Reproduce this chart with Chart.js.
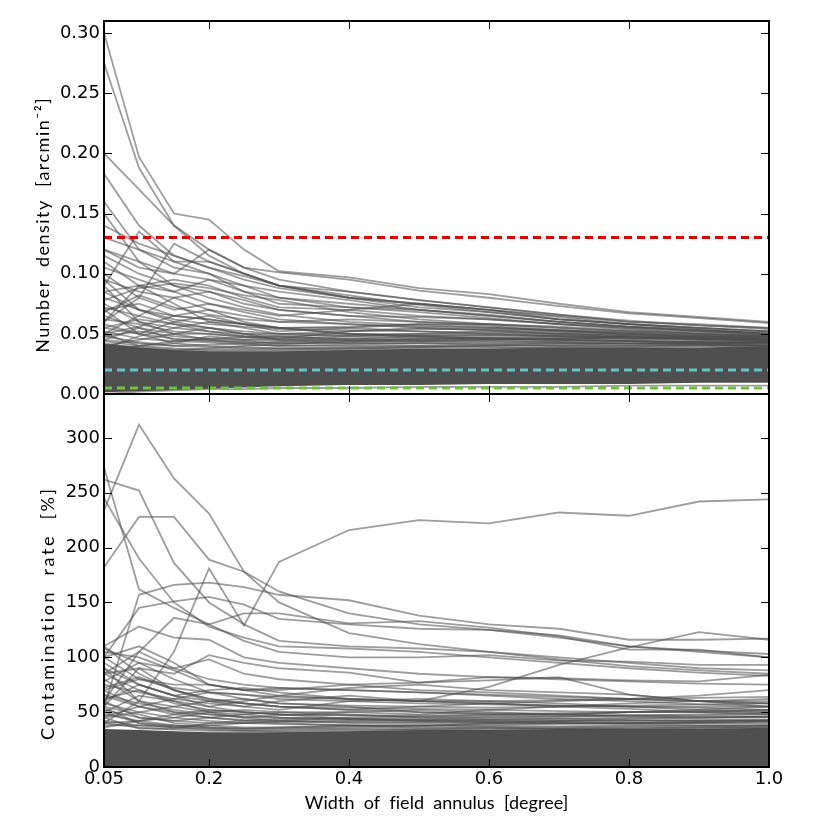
<!DOCTYPE html>
<html>
<head>
<meta charset="utf-8">
<title>Field annulus width</title>
<script src="https://cdn.jsdelivr.net/npm/chart.js@4.4.0/dist/chart.umd.min.js"></script>
<style>
  html, body { margin: 0; padding: 0; background: #fff; }
  #wrap { width: 830px; height: 830px; }
</style>
</head>
<body>
<div id="wrap"><canvas id="annulus" width="830" height="830"></canvas></div>
<script>
// Width of field annulus vs number density / contamination rate
// -----------------------------------

var xValues = [0.05, 0.1, 0.15, 0.2, 0.25, 0.3, 0.4, 0.5, 0.6, 0.7, 0.8, 0.9, 1.0];
var xTicks = [0.05, 0.2, 0.4, 0.6, 0.8, 1.0];
var xTickLabels = ['0.05', '0.2', '0.4', '0.6', '0.8', '1.0'];

// number density [arcmin^-2], one row per object
var densityLines = [
    [0.300, 0.197, 0.150, 0.145, 0.120, 0.102, 0.097, 0.088, 0.083, 0.075, 0.068, 0.064, 0.060],
    [0.275, 0.188, 0.140, 0.120, 0.105, 0.101, 0.095, 0.086, 0.080, 0.073, 0.067, 0.063, 0.059],
    [0.200, 0.170, 0.140, 0.115, 0.100, 0.090, 0.085, 0.078, 0.072, 0.066, 0.060, 0.057, 0.055],
    [0.183, 0.140, 0.115, 0.105, 0.095, 0.088, 0.080, 0.075, 0.070, 0.064, 0.058, 0.055, 0.052],
    [0.160, 0.120, 0.105, 0.100, 0.090, 0.080, 0.072, 0.068, 0.063, 0.058, 0.054, 0.050, 0.048],
    [0.150, 0.110, 0.090, 0.085, 0.075, 0.070, 0.065, 0.060, 0.057, 0.053, 0.050, 0.048, 0.046],
    [0.090, 0.135, 0.110, 0.100, 0.085, 0.080, 0.075, 0.070, 0.065, 0.060, 0.056, 0.053, 0.050],
    [0.060, 0.080, 0.125, 0.110, 0.100, 0.090, 0.080, 0.075, 0.070, 0.065, 0.060, 0.058, 0.055],
    [0.120, 0.105, 0.100, 0.120, 0.105, 0.095, 0.085, 0.078, 0.072, 0.066, 0.061, 0.057, 0.054],
    [0.130, 0.120, 0.110, 0.110, 0.100, 0.090, 0.080, 0.072, 0.068, 0.062, 0.058, 0.055, 0.052],
    [0.110, 0.090, 0.095, 0.090, 0.080, 0.072, 0.070, 0.065, 0.062, 0.058, 0.055, 0.052, 0.050],
    [0.085, 0.090, 0.085, 0.095, 0.085, 0.075, 0.072, 0.070, 0.066, 0.060, 0.056, 0.053, 0.050],
    [0.100, 0.080, 0.070, 0.075, 0.070, 0.065, 0.070, 0.075, 0.070, 0.062, 0.058, 0.054, 0.050],
    [0.070, 0.075, 0.065, 0.070, 0.065, 0.060, 0.062, 0.060, 0.058, 0.055, 0.052, 0.050, 0.048],
    [0.090, 0.060, 0.055, 0.060, 0.058, 0.055, 0.055, 0.052, 0.050, 0.048, 0.047, 0.046, 0.045],
    [0.060, 0.090, 0.075, 0.060, 0.055, 0.050, 0.050, 0.048, 0.046, 0.045, 0.044, 0.043, 0.042],
    [0.050, 0.065, 0.080, 0.070, 0.060, 0.055, 0.050, 0.050, 0.052, 0.050, 0.048, 0.046, 0.044],
    [0.075, 0.060, 0.050, 0.050, 0.047, 0.045, 0.048, 0.050, 0.050, 0.049, 0.047, 0.045, 0.043],
    [0.055, 0.050, 0.060, 0.055, 0.050, 0.048, 0.045, 0.044, 0.044, 0.043, 0.042, 0.041, 0.040],
    [0.045, 0.055, 0.045, 0.045, 0.044, 0.042, 0.043, 0.045, 0.046, 0.045, 0.044, 0.042, 0.040],
    [0.080, 0.070, 0.060, 0.065, 0.058, 0.052, 0.055, 0.058, 0.056, 0.052, 0.050, 0.047, 0.045],
    [0.065, 0.055, 0.050, 0.055, 0.050, 0.045, 0.042, 0.042, 0.041, 0.040, 0.040, 0.040, 0.039],
    [0.040, 0.045, 0.050, 0.045, 0.042, 0.040, 0.040, 0.040, 0.039, 0.038, 0.038, 0.038, 0.037],
    [0.095, 0.085, 0.080, 0.085, 0.078, 0.070, 0.065, 0.064, 0.062, 0.058, 0.055, 0.052, 0.049],
    [0.050, 0.040, 0.042, 0.048, 0.045, 0.046, 0.052, 0.055, 0.053, 0.050, 0.048, 0.046, 0.044],
    [0.042, 0.038, 0.036, 0.038, 0.040, 0.041, 0.044, 0.046, 0.047, 0.047, 0.046, 0.045, 0.044],
    [0.070, 0.050, 0.042, 0.040, 0.039, 0.038, 0.038, 0.039, 0.040, 0.041, 0.042, 0.042, 0.042],
    [0.045, 0.042, 0.040, 0.041, 0.042, 0.043, 0.045, 0.046, 0.046, 0.045, 0.044, 0.043, 0.042],
    [0.052, 0.046, 0.044, 0.043, 0.041, 0.040, 0.041, 0.042, 0.042, 0.042, 0.041, 0.041, 0.040],
    [0.058, 0.050, 0.046, 0.044, 0.043, 0.042, 0.042, 0.043, 0.043, 0.043, 0.042, 0.042, 0.041],
    [0.048, 0.052, 0.048, 0.046, 0.045, 0.044, 0.046, 0.048, 0.049, 0.048, 0.047, 0.046, 0.045],
    [0.062, 0.058, 0.052, 0.050, 0.048, 0.047, 0.046, 0.045, 0.045, 0.044, 0.044, 0.043, 0.043],
    [0.085, 0.070, 0.065, 0.062, 0.058, 0.055, 0.050, 0.048, 0.047, 0.046, 0.045, 0.044, 0.043],
    [0.105, 0.095, 0.085, 0.075, 0.068, 0.062, 0.058, 0.055, 0.053, 0.051, 0.049, 0.047, 0.046],
    [0.115, 0.100, 0.090, 0.080, 0.072, 0.066, 0.060, 0.057, 0.055, 0.053, 0.051, 0.049, 0.048],
    [0.078, 0.088, 0.092, 0.088, 0.082, 0.078, 0.068, 0.062, 0.058, 0.055, 0.052, 0.050, 0.048],
    [0.068, 0.082, 0.072, 0.066, 0.062, 0.060, 0.058, 0.056, 0.055, 0.053, 0.051, 0.049, 0.047],
    [0.038, 0.048, 0.055, 0.052, 0.050, 0.050, 0.052, 0.054, 0.054, 0.052, 0.050, 0.048, 0.046],
    [0.120, 0.110, 0.100, 0.095, 0.090, 0.085, 0.078, 0.070, 0.065, 0.060, 0.056, 0.053, 0.051],
    [0.140, 0.125, 0.115, 0.105, 0.098, 0.090, 0.082, 0.074, 0.068, 0.062, 0.058, 0.055, 0.052],
    [0.095, 0.070, 0.062, 0.058, 0.056, 0.054, 0.053, 0.052, 0.051, 0.050, 0.049, 0.048, 0.047],
    [0.035, 0.040, 0.044, 0.046, 0.047, 0.048, 0.049, 0.049, 0.049, 0.048, 0.047, 0.046, 0.045],
    [0.055, 0.062, 0.058, 0.052, 0.048, 0.046, 0.044, 0.044, 0.045, 0.046, 0.047, 0.047, 0.047],
    [0.072, 0.065, 0.058, 0.055, 0.052, 0.050, 0.048, 0.047, 0.046, 0.046, 0.046, 0.046, 0.046],
    [0.050, 0.056, 0.065, 0.062, 0.058, 0.055, 0.056, 0.058, 0.058, 0.056, 0.053, 0.051, 0.049],
    [0.044, 0.040, 0.038, 0.037, 0.037, 0.037, 0.038, 0.039, 0.040, 0.040, 0.040, 0.041, 0.041],
    [0.048, 0.043, 0.040, 0.039, 0.038, 0.038, 0.039, 0.040, 0.041, 0.042, 0.042, 0.042, 0.043],
    [0.041, 0.039, 0.037, 0.036, 0.036, 0.036, 0.037, 0.038, 0.038, 0.039, 0.039, 0.040, 0.040],
    [0.000, 0.002, 0.003, 0.004, 0.004, 0.005, 0.005, 0.006, 0.006, 0.006, 0.007, 0.007, 0.007]
];
// dense core of the density curves
var densityCoreLow  = [0.002, 0.003, 0.004, 0.005, 0.006, 0.007, 0.008, 0.008, 0.009, 0.009, 0.009, 0.010, 0.010];
var densityCoreHigh = [0.041, 0.038, 0.036, 0.035, 0.035, 0.035, 0.036, 0.037, 0.037, 0.038, 0.038, 0.038, 0.039];

// reference levels on the density panel
var refLevels = [0.13, 0.02, 0.005];
var refColors = ['#e00000', '#62c6c6', '#6cc23a'];

// contamination rate [%], one row per object
var contaminationLines = [
    [234, 312, 263, 231, 178, 150, 122, 112, 105, 100, 95, 90, 88],
    [182, 228, 228, 189, 178, 160, 140, 130, 125, 118, 110, 106, 103],
    [262, 252, 186, 150, 130, 115, 110, 108, 105, 98, 92, 88, 85],
    [273, 162, 145, 130, 115, 105, 100, 100, 102, 97, 96, 93, 93],
    [245, 190, 150, 128, 118, 110, 108, 105, 100, 95, 90, 86, 83],
    [40, 60, 105, 181, 129, 187, 216, 225, 222, 232, 229, 242, 244],
    [55, 157, 166, 168, 164, 157, 152, 138, 130, 126, 116, 116, 117],
    [110, 128, 118, 116, 100, 95, 90, 85, 82, 80, 78, 76, 75],
    [100, 145, 151, 155, 148, 135, 130, 126, 125, 120, 110, 105, 100],
    [60, 105, 136, 130, 140, 140, 131, 133, 127, 119, 107, 107, 100],
    [85, 90, 85, 102, 95, 90, 86, 77, 79, 82, 66, 60, 58],
    [108, 95, 90, 98, 85, 80, 75, 77, 82, 81, 79, 78, 84],
    [55, 90, 70, 60, 55, 60, 65, 60, 73, 93, 109, 123, 116],
    [70, 80, 75, 75, 70, 70, 75, 70, 68, 65, 62, 60, 58],
    [95, 75, 65, 60, 58, 55, 52, 55, 58, 60, 62, 65, 70],
    [50, 65, 60, 55, 60, 65, 72, 75, 70, 68, 66, 60, 55],
    [80, 60, 55, 50, 52, 50, 50, 48, 52, 55, 58, 60, 62],
    [65, 55, 50, 48, 45, 47, 50, 52, 50, 48, 46, 45, 45],
    [45, 50, 55, 60, 62, 58, 55, 50, 48, 47, 50, 52, 55],
    [60, 45, 42, 45, 48, 50, 48, 45, 44, 44, 43, 42, 42],
    [75, 68, 62, 58, 55, 52, 60, 62, 60, 58, 55, 52, 50],
    [105, 100, 88, 75, 70, 72, 70, 68, 65, 62, 60, 57, 55],
    [40, 42, 45, 50, 48, 45, 44, 42, 42, 41, 40, 40, 40],
    [55, 48, 40, 38, 40, 42, 45, 46, 47, 48, 50, 50, 52],
    [85, 70, 60, 50, 45, 42, 40, 40, 40, 40, 39, 38, 38],
    [38, 38, 37, 38, 36, 36, 38, 38, 37, 37, 38, 38, 38],
    [70, 55, 48, 45, 42, 40, 38, 36, 36, 35, 35, 36, 36],
    [100, 110, 95, 75, 70, 65, 62, 60, 58, 55, 53, 50, 48],
    [90, 75, 65, 70, 72, 68, 62, 60, 58, 56, 55, 54, 52],
    [50, 40, 38, 36, 35, 35, 36, 37, 40, 42, 44, 45, 46],
    [45, 35, 35, 40, 42, 44, 43, 42, 41, 40, 40, 41, 42],
    [60, 75, 65, 55, 50, 48, 44, 43, 43, 42, 42, 42, 43],
    [48, 42, 38, 36, 35, 36, 37, 38, 39, 40, 40, 40, 41],
    [52, 45, 42, 40, 40, 41, 42, 43, 43, 44, 45, 45, 46],
    [58, 50, 45, 42, 40, 39, 38, 38, 38, 39, 40, 41, 42],
    [42, 38, 36, 35, 34, 34, 35, 35, 36, 36, 37, 37, 38],
    [66, 58, 52, 48, 46, 45, 44, 44, 45, 46, 47, 48, 49],
    [110, 85, 70, 62, 58, 55, 52, 50, 49, 48, 47, 46, 46],
    [72, 82, 70, 62, 58, 55, 54, 53, 52, 51, 50, 50, 50],
    [62, 70, 58, 52, 50, 48, 47, 47, 48, 49, 50, 51, 52],
    [90, 60, 50, 45, 43, 42, 41, 41, 41, 42, 42, 43, 43],
    [36, 42, 48, 52, 50, 48, 47, 46, 46, 46, 47, 47, 48],
    [78, 95, 80, 68, 62, 58, 56, 55, 54, 55, 56, 57, 58],
    [46, 55, 62, 68, 66, 62, 60, 58, 57, 56, 55, 55, 55],
    [100, 80, 72, 68, 66, 64, 62, 60, 60, 61, 62, 63, 64],
    [54, 40, 36, 34, 33, 33, 34, 34, 35, 35, 36, 36, 37],
    [85, 105, 90, 80, 75, 72, 70, 68, 66, 64, 62, 60, 60],
    [40, 36, 34, 33, 33, 32, 33, 34, 34, 35, 35, 35, 36]
];
var contaminationCoreLow  = [0, 0, 0, 0, 0, 0, 0, 0, 0, 0, 0, 0, 0];
var contaminationCoreHigh = [34, 33, 32, 31, 31, 31, 32, 33, 33, 34, 34, 34, 35];

(function(window, document, undefined) {

    var lineColor = 'rgba(77, 77, 77, 0.55)';
    var coreColor = '#4f4f4f';

    function points(values) {
        return xValues.map(function(x, i) {
            return { x: x, y: values[i] };
        });
    }

    function greyLine(values, axis) {
        return {
            data: points(values),
            yAxisID: axis,
            borderColor: lineColor,
            borderWidth: 1.8,
            pointRadius: 0,
            fill: false,
            order: 2
        };
    }

    var datasets = [];

    // reference levels go first so they end up on top
    refLevels.forEach(function(level, i) {
        datasets.push({
            data: [{ x: xValues[0], y: level }, { x: xValues[xValues.length - 1], y: level }],
            yAxisID: 'yTop',
            borderColor: refColors[i],
            borderWidth: 3,
            borderDash: [8, 5],
            pointRadius: 0,
            fill: false,
            order: 0
        });
    });

    /*-----------------Density panel-----------------*/
    datasets.push({
        data: points(densityCoreLow), yAxisID: 'yTop',
        borderColor: coreColor, borderWidth: 1.5, pointRadius: 0, fill: false, order: 3
    });
    datasets.push({
        data: points(densityCoreHigh), yAxisID: 'yTop',
        borderColor: coreColor, borderWidth: 1.5, pointRadius: 0,
        fill: '-1', backgroundColor: coreColor, order: 3
    });
    densityLines.forEach(function(row) {
        datasets.push(greyLine(row, 'yTop'));
    });

    /*-----------------Contamination panel-----------------*/
    datasets.push({
        data: points(contaminationCoreLow), yAxisID: 'yBottom',
        borderColor: coreColor, borderWidth: 1.5, pointRadius: 0, fill: false, order: 3
    });
    datasets.push({
        data: points(contaminationCoreHigh), yAxisID: 'yBottom',
        borderColor: coreColor, borderWidth: 1.5, pointRadius: 0,
        fill: '-1', backgroundColor: coreColor, order: 3
    });
    contaminationLines.forEach(function(row) {
        datasets.push(greyLine(row, 'yBottom'));
    });

    // axis titles, stretched to the length of the LaTeX labels
    function fittedText(ctx, text, cx, cy, rotation, length) {
        ctx.save();
        ctx.translate(cx, cy);
        ctx.rotate(rotation);
        ctx.font = '18px Lato';
        ctx.fillStyle = '#000';
        ctx.letterSpacing = '0px';
        var w = ctx.measureText(text).width;
        var extra = (length - w) / text.length;
        ctx.letterSpacing = extra + 'px';
        ctx.textAlign = 'center';
        ctx.textBaseline = 'middle';
        ctx.fillText(text, extra / 2, 0);
        ctx.restore();
    }

    // matplotlib style frame with inward ticks on every side
    var framePlugin = {
        id: 'frame',
        afterDatasetsDraw: function(chart) {
            var ctx = chart.ctx;
            var x = chart.scales.x;
            var yTop = chart.scales.yTop;
            var yBottom = chart.scales.yBottom;
            ctx.save();
            ctx.strokeStyle = '#000';
            [yTop, yBottom].forEach(function(y) {
                ctx.lineWidth = 1;
                ctx.beginPath();
                x.ticks.forEach(function(t) {
                    var px = Math.round(x.getPixelForValue(t.value)) + 0.5;
                    ctx.moveTo(px, y.top);
                    ctx.lineTo(px, y.top + 8);
                    ctx.moveTo(px, y.bottom);
                    ctx.lineTo(px, y.bottom - 8);
                });
                y.ticks.forEach(function(t) {
                    var py = Math.round(y.getPixelForValue(t.value)) + 0.5;
                    ctx.moveTo(x.left, py);
                    ctx.lineTo(x.left + 8, py);
                    ctx.moveTo(x.right, py);
                    ctx.lineTo(x.right - 8, py);
                });
                ctx.stroke();
                ctx.lineWidth = 2;
                ctx.strokeRect(x.left, y.top, x.right - x.left, y.bottom - y.top);
            });
            ctx.restore();

            fittedText(ctx, 'Width  of  field  annulus  [degree]',
                (x.left + x.right) / 2, x.bottom - 27, 0, 263);
            fittedText(ctx, 'Number  density  [arcmin\u207B\u00B2]',
                43, (yTop.top + yTop.bottom) / 2 + 18, -Math.PI / 2, 256);
            fittedText(ctx, 'Contamination  rate  [%]',
                48, (yBottom.top + yBottom.bottom) / 2 + 34, -Math.PI / 2, 254);
        }
    };

    var tickFont = { family: 'DejaVu Sans', size: 18 };

    var ctx = document.getElementById('annulus').getContext('2d');
    var annulusChart = new Chart(ctx, {
        type: 'line',
        data: { datasets: datasets },
        plugins: [framePlugin],
        options: {
            responsive: false,
            animation: false,
            events: [],
            layout: { padding: { top: 21, right: 61, bottom: 0, left: 0 } },
            plugins: {
                legend: { display: false },
                tooltip: { enabled: false }
            },
            scales: {
                x: {
                    type: 'linear',
                    min: 0.05,
                    max: 1.0,
                    grid: { display: false, drawTicks: false },
                    border: { display: false },
                    afterBuildTicks: function(scale) {
                        scale.ticks = xTicks.map(function(v) { return { value: v }; });
                    },
                    afterFit: function(scale) { scale.height = 63; },
                    ticks: {
                        padding: 2,
                        color: '#000',
                        font: tickFont,
                        maxRotation: 0,
                        callback: function(value, index) { return xTickLabels[index]; }
                    }
                },
                // bottom panel is defined first so it is stacked below
                yBottom: {
                    type: 'linear',
                    position: 'left',
                    stack: 'panels',
                    stackWeight: 1,
                    min: 0,
                    max: 340,
                    grid: { display: false, drawTicks: false },
                    border: { display: false },
                    afterFit: function(scale) { scale.width = 104; },
                    ticks: {
                        stepSize: 50,
                        includeBounds: false,
                        padding: 4,
                        color: '#000',
                        font: tickFont
                    }
                },
                yTop: {
                    type: 'linear',
                    position: 'left',
                    stack: 'panels',
                    stackWeight: 1,
                    min: 0,
                    max: 0.31,
                    grid: { display: false, drawTicks: false },
                    border: { display: false },
                    afterFit: function(scale) { scale.width = 104; },
                    ticks: {
                        stepSize: 0.05,
                        includeBounds: false,
                        padding: 4,
                        color: '#000',
                        font: tickFont,
                        callback: function(value) { return value.toFixed(2); }
                    }
                }
            }
        }
    });

})(window, document);
</script>
</body>
</html>
